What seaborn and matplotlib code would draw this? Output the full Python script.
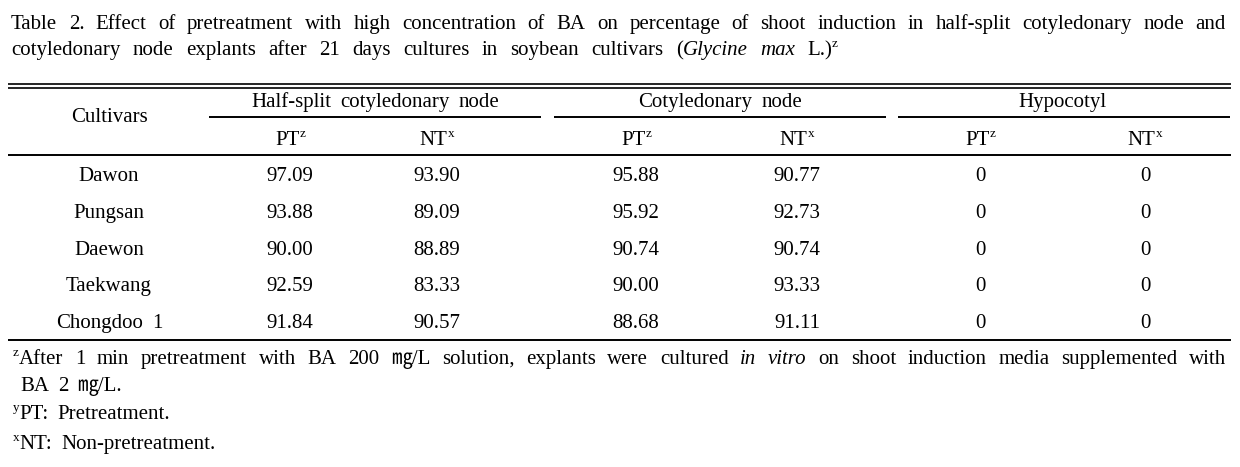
import numpy as np
import pandas as pd
import matplotlib
matplotlib.use("Agg")
import matplotlib.pyplot as plt
import seaborn as sns

# table data
cultivars = ["Dawon", "Pungsan", "Daewon", "Taekwang", "Chongdoo 1"]
half_pt = [97.09, 93.88, 90.00, 92.59, 91.84]
half_nt = [93.90, 89.09, 88.89, 83.33, 90.57]
coty_pt = [95.88, 95.92, 90.74, 90.00, 88.68]
coty_nt = [90.77, 92.73, 90.74, 93.33, 91.11]
hypo_pt = [0, 0, 0, 0, 0]
hypo_nt = [0, 0, 0, 0, 0]
groups = ["Half-split cotyledonary node", "Cotyledonary node", "Hypocotyl"]
subs = [("PT", "z"), ("NT", "x")]

df = pd.DataFrame({"hpt": half_pt, "hnt": half_nt, "cpt": coty_pt,
                   "cnt": coty_nt, "ppt": hypo_pt, "pnt": hypo_nt}, index=cultivars)
labels = df.apply(lambda col: col.map(lambda v: f"{v:.2f}" if v else "0"))

sns.set_theme(style="white")
plt.rcParams['font.family'] = ['Liberation Serif', 'Noto Sans CJK KR']

W, H = 1240, 467
FS = 15
SUP = 9.5
fig = plt.figure(figsize=(W / 100, H / 100), dpi=100)
fig.patch.set_facecolor("white")

# whole table drawn in pixel coordinates
ax = fig.add_axes([0, 0, 1, 1])
ax.set_xlim(0, W)
ax.set_ylim(H, 0)
ax.axis("off")
renderer = fig.canvas.get_renderer()

# layout
col_x = [290, 437, 636, 797, 980, 1145]
name_x = 109
row_y0, row_dy = 181, 36.8
spans = [(209, 541), (554, 886), (898, 1230)]
group_x = [375, 720, 1062]


def seg_w(txt, size, style):
    t = ax.text(0, 0, txt, fontsize=size, fontstyle=style)
    w = t.get_window_extent(renderer).width
    t.remove()
    return w


def parse(text):
    words = []
    for w in text.split(" "):
        segs = []
        for part in w.split("|"):
            if part.startswith("^"):
                txt, style, sup = part[1:], "normal", True
            elif part.startswith("_"):
                txt, style, sup = part[1:], "italic", False
            elif part:
                txt, style, sup = part, "normal", False
            else:
                continue
            size = SUP if sup else FS
            segs.append((txt, size, style, 8 if sup else 0, seg_w(txt, size, style)))
        words.append(segs)
    return words


def draw_line(text, x0, y, x1=None, gap=9):
    words = parse(text)
    widths = [sum(s[4] for s in w) for w in words]
    if x1 is not None and len(words) > 1:
        gap = (x1 - x0 - sum(widths)) / (len(words) - 1)
    x = x0
    for w, wd in zip(words, widths):
        xx = x
        for txt, size, style, rise, sw in w:
            ax.text(xx, y - rise, txt, fontsize=size, fontstyle=style,
                    va="baseline", ha="left", color="black")
            xx += sw
        x += wd + gap


def draw_center(text, xc, y, gap=9):
    words = parse(text)
    widths = [sum(s[4] for s in w) for w in words]
    total = sum(widths) + gap * (len(words) - 1)
    draw_line(text, xc - total / 2, y, gap=gap)


# title
draw_line("Table 2. Effect of pretreatment with high concentration of BA on percentage "
          "of shoot induction in half-split cotyledonary node and", 11, 29, 1226)
draw_line("cotyledonary node explants after 21 days cultures in soybean cultivars "
          "(|_Glycine _max L.)|^z", 11, 55, 838)

# rules
lw = 1.4
ax.hlines([84, 88], 8, 1231, color="black", lw=1.2)
ax.hlines([155], 8, 1231, color="black", lw=lw)
ax.hlines([340], 8, 1231, color="black", lw=lw)
for (a, b), gx, g in zip(spans, group_x, groups):
    ax.hlines(117, a, b, color="black", lw=lw)
    draw_center(g, gx, 107)

# header
ax.text(name_x, 118, "Cultivars", ha="center", va="center", fontsize=FS, color="black")
for j, cx in enumerate(col_x):
    base, sup = subs[j % 2]
    draw_center(f"{base}|^{sup}", cx, 145)

# body
for i, name in enumerate(cultivars):
    y = row_y0 + i * row_dy
    draw_center(name, name_x, y)
    for j, cx in enumerate(col_x):
        ax.text(cx, y, labels.iloc[i, j], ha="center", va="baseline",
                fontsize=FS, color="black")

# footnotes
draw_line("^z|After 1 min pretreatment with BA 200 ㎎/L solution, explants were cultured "
          "_in _vitro on shoot induction media supplemented with", 13, 364, 1226)
draw_line("BA 2 ㎎/L.", 20, 391)
draw_line("^y|PT: Pretreatment.", 13, 419)
draw_line("^x|NT: Non-pretreatment.", 13, 449)

fig.savefig("out.png", dpi=100, facecolor="white")
